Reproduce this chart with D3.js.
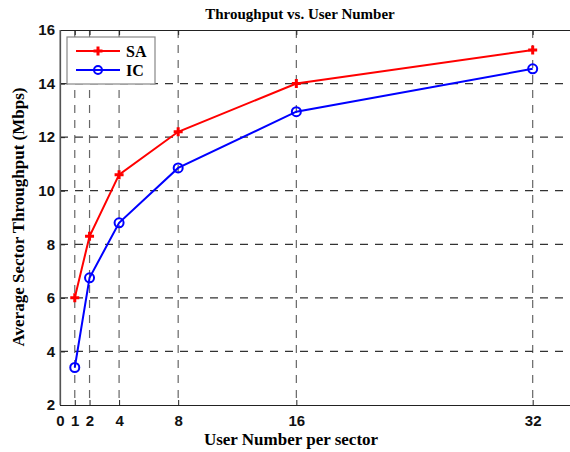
<!DOCTYPE html>
<html>
<head>
<meta charset="UTF-8">
<script src="https://d3js.org/d3.v7.min.js"></script>
<style>
  body { margin: 0; background: #fff; }
  svg { display: block; }
</style>
</head>
<body>
<svg id="chart" width="570" height="452"></svg>
<script>
  // datos
  const users = [1, 2, 4, 8, 16, 32];
  const saVals = [6.0, 8.3, 10.6, 12.2, 14.0, 15.25];
  const icVals = [3.4, 6.75, 8.8, 10.85, 12.95, 14.55];
  const xTicks = [0, 1, 2, 4, 8, 16, 32];
  const yTicks = [2, 4, 6, 8, 10, 12, 14, 16];

  const svg = d3.select("#chart");
  const mLeft = 60, mTop = 30, mBottom = 405, mRight = 577;

  const x = d3.scaleLinear().domain([0, 35]).range([mLeft, mRight]);
  const y = d3.scaleLinear().domain([2, 16]).range([mBottom, mTop]);

  // grid
  const grid = svg.append("g");
  grid.selectAll("line.v").data(users).join("line")
    .attr("x1", d => x(d)).attr("x2", d => x(d))
    .attr("y1", mTop).attr("y2", mBottom)
    .attr("stroke", "#666").attr("stroke-width", 1.2)
    .attr("stroke-dasharray", "8,7");
  grid.selectAll("line.h").data(yTicks.slice(1, -1)).join("line")
    .attr("x1", mLeft).attr("x2", mRight)
    .attr("y1", d => y(d)).attr("y2", d => y(d))
    .attr("stroke", "#333").attr("stroke-width", 1.2)
    .attr("stroke-dasharray", "8,7");

  // axes
  svg.append("g").attr("transform", `translate(0,${mBottom})`)
    .call(d3.axisBottom(x).tickValues(xTicks).tickSizeInner(-5).tickSizeOuter(0).tickPadding(10));
  svg.append("g").attr("transform", `translate(0,${mTop})`)
    .call(d3.axisTop(x).tickValues(xTicks).tickSizeInner(-5).tickSizeOuter(0).tickFormat(""));
  svg.append("g").attr("transform", `translate(${mLeft},0)`)
    .call(d3.axisLeft(y).tickValues(yTicks).tickSizeInner(-5).tickSizeOuter(0).tickPadding(5));

  svg.selectAll(".domain").attr("stroke", "#222").attr("stroke-width", 1.2);
  svg.selectAll(".tick line").attr("stroke", "#222");
  svg.selectAll(".tick text")
    .style("font-family", "Liberation Sans, Arial, sans-serif")
    .style("font-weight", "bold").style("font-size", "15px").attr("fill", "#111");
  // borde izquierdo
  svg.append("line").attr("x1", mLeft).attr("x2", mLeft).attr("y1", mTop).attr("y2", mBottom)
    .attr("stroke", "#777").attr("stroke-width", 1.2);

  // series
  const line = d3.line().x(d => x(d[0])).y(d => y(d[1]));
  const sa = users.map((u, i) => [u, saVals[i]]);
  const ic = users.map((u, i) => [u, icVals[i]]);

  svg.append("path").datum(sa).attr("d", line)
    .attr("fill", "none").attr("stroke", "#ff0000").attr("stroke-width", 2);
  svg.append("path").datum(ic).attr("d", line)
    .attr("fill", "none").attr("stroke", "#0000ff").attr("stroke-width", 2);

  const plus = d3.symbol().type(d3.symbolCross).size(45);
  svg.selectAll("path.sa").data(sa).join("path")
    .attr("transform", d => `translate(${x(d[0])},${y(d[1])})`)
    .attr("d", plus).attr("fill", "#ff0000");
  svg.selectAll("circle.ic").data(ic).join("circle")
    .attr("cx", d => x(d[0])).attr("cy", d => y(d[1])).attr("r", 4.5)
    .attr("fill", "none").attr("stroke", "#0000ff").attr("stroke-width", 2);

  // leyenda
  const lg = svg.append("g").attr("transform", "translate(67,37)");
  lg.append("rect").attr("width", 88).attr("height", 47)
    .attr("fill", "#fff").attr("stroke", "#888").attr("stroke-width", 1.2);
  lg.append("line").attr("x1", 9).attr("x2", 53).attr("y1", 14).attr("y2", 14)
    .attr("stroke", "#ff0000").attr("stroke-width", 2);
  lg.append("path").attr("transform", "translate(31,14)").attr("d", plus).attr("fill", "#ff0000");
  lg.append("line").attr("x1", 9).attr("x2", 53).attr("y1", 33).attr("y2", 33)
    .attr("stroke", "#0000ff").attr("stroke-width", 2);
  lg.append("circle").attr("cx", 31).attr("cy", 33).attr("r", 4)
    .attr("fill", "none").attr("stroke", "#0000ff").attr("stroke-width", 2);
  lg.selectAll("text").data(["SA", "IC"]).join("text")
    .attr("x", 59).attr("y", (d, i) => 20 + i * 19)
    .style("font-family", "Liberation Serif, Times New Roman, serif")
    .style("font-weight", "bold").style("font-size", "16px")
    .text(d => d);

  // titulos
  const serif = "Liberation Serif, Times New Roman, serif";
  svg.append("text").attr("x", 300).attr("y", 19).attr("text-anchor", "middle")
    .style("font-family", serif).style("font-weight", "bold").style("font-size", "15px")
    .text("Throughput vs. User Number");
  svg.append("text").attr("x", 291).attr("y", 445).attr("text-anchor", "middle")
    .style("font-family", serif).style("font-weight", "bold").style("font-size", "17px")
    .text("User Number per sector");
  svg.append("text").attr("transform", "translate(24,217) rotate(-90)").attr("text-anchor", "middle")
    .style("font-family", serif).style("font-weight", "bold").style("font-size", "17px")
    .text("Average Sector Throughput (Mbps)");
</script>
</body>
</html>
